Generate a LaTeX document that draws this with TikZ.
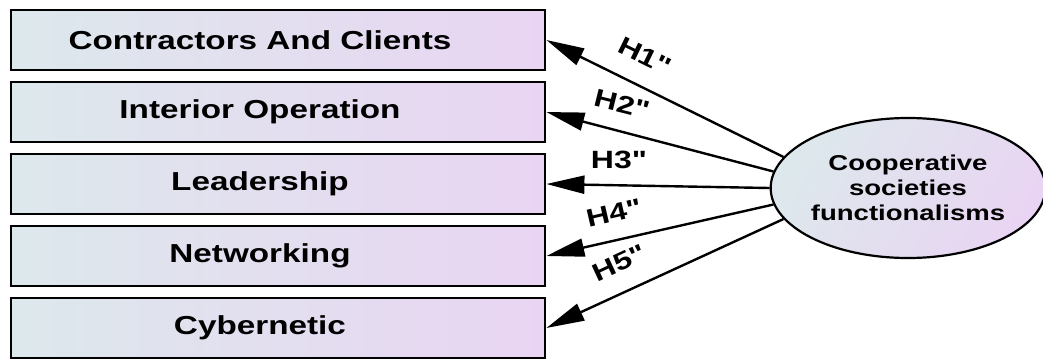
\documentclass[tikz,border=0pt]{standalone}
\usepackage{fontspec}
\setmainfont{Liberation Sans}
\newfontfamily\hfont{Liberation Sans}
\usetikzlibrary{arrows.meta,shapes.geometric}
\definecolor{leftc}{RGB}{221,232,236}
\definecolor{rightc}{RGB}{233,213,243}
\newcommand{\wide}[1]{\scalebox{1.28}[1]{#1}}
\newcommand{\dq}{{\hfont\symbol{34}}}
\tikzset{
  factor/.style={draw=black, line width=2.8pt, minimum width=534pt, minimum height=60pt,
    left color=leftc, right color=rightc, inner sep=0pt},
  ftext/.style={font=\fontsize{26}{28}\selectfont\bfseries, inner sep=0pt},
  latent/.style={ellipse, draw=black, line width=2.2pt, minimum width=268pt, minimum height=140pt,
    shading=axis, left color=leftc, right color=rightc, shading angle=60, inner sep=0pt,
    font=\fontsize{21.5}{25}\selectfont\bfseries, align=center},
  hyp/.style={-{Triangle[length=38pt,width=18pt]}, line width=2.4pt, black},
  hlab/.style={font=\fontsize{25}{27}\selectfont\bfseries, inner sep=0pt}
}
\begin{document}
\begin{tikzpicture}[x=1pt,y=-1pt]
\useasboundingbox (0,0) rectangle (1043,359);
\node[factor] (b1) at (278,40) {};
\node[factor] (b2) at (278,112) {};
\node[factor] (b3) at (278,184) {};
\node[factor] (b4) at (278,256) {};
\node[factor] (b5) at (278,328) {};
\node[ftext] (t1) at (260,40) {\wide{Contractors And Clients}};
\node[ftext] (t2) at (260,112) {\wide{Interior Operation}};
\node[ftext] (t3) at (260,184) {\wide{Leadership}};
\node[ftext] (t4) at (260,256) {\wide{Networking}};
\node[ftext] (t5) at (260,328) {\wide{Cybernetic}};
\node[latent] (e) at (908,188) {\wide{Cooperative}\\\wide{societies}\\\wide{functionalisms}};
\draw[hyp] (e.166) -- (b1.east);
\draw[hyp] (e.173) -- (b2.east);
\draw[hyp] (e.180) -- (b3.east);
\draw[hyp] (e.187) -- (b4.east);
\draw[hyp] (e.194) -- (b5.east);
\node[hlab, rotate=-26] (h1) at (645,56) {\wide{H1\dq}};
\node[hlab, rotate=-14] (h2) at (622,104) {\wide{H2\dq}};
\node[hlab] (h3) at (619,160) {\wide{H3\dq}};
\node[hlab, rotate=13] (h4) at (614,213) {\wide{H4\dq}};
\node[hlab, rotate=25] (h5) at (619,263) {\wide{H5\dq}};
\end{tikzpicture}
\end{document}
